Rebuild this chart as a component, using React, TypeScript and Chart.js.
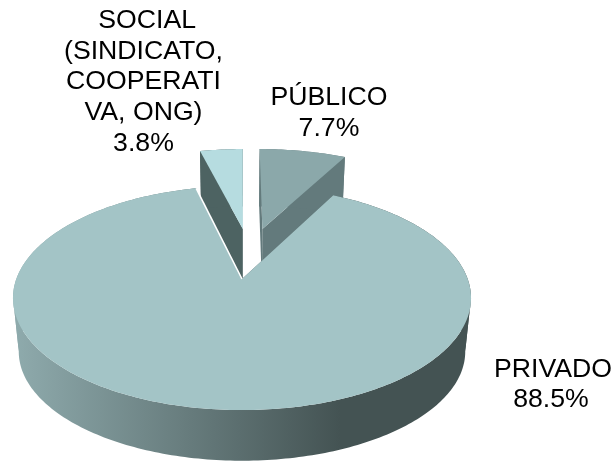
import React, { useEffect, useRef } from "react";
import { Chart, registerables } from "chart.js";

Chart.register(...registerables);

const categories = ["PÚBLICO", "PRIVADO", "SOCIAL (SINDICATO, COOPERATIVA, ONG)"];
const shares = [7.7, 88.5, 3.8];
const labelLines = [
  ["PÚBLICO", "7.7%"],
  ["PRIVADO", "88.5%"],
  ["SOCIAL", "(SINDICATO,", "COOPERATI", "VA, ONG)", "3.8%"],
];

const topColors = ["#8ba8aa", "#a3c4c6", "#b6dce0"];
const wallColors = ["#637a7c", "#445353", "#4d6362"];
const sliceShift = [
  [0.098, -0.4985],
  [0, 0],
  [0.004, -0.4985],
];
const drawOrder = [2, 0, 1];
const labelAnchors = [
  { x: 329, y: 105, step: 30.7 },
  { x: 552, y: 376.5, step: 30.7 },
  { x: 143.5, y: 28, step: 30.7 },
];
const lineNudge = [
  [0, 0],
  [1, -1],
  [3.7, 0, 0, 0, 0],
];

const CX = 242;
const PERSPECTIVE = 0.17;
const top = { cy: 279, rx: 225.7, ry: 108.8 };
const bottom = { cy: 333, rx: 220, ry: 106 };

type Face = { cy: number; rx: number; ry: number };
const project = (u: number, v: number, f: Face) => {
  const s = 1 / (1 - PERSPECTIVE * v);
  return [CX + f.rx * u * s, f.cy + f.ry * v * s];
};

const arcPoints = (a0: number, a1: number, shift: number[], f: Face) => {
  const n = Math.max(8, Math.ceil(((a1 - a0) * 180) / Math.PI));
  const pts: number[][] = [];
  for (let i = 0; i <= n; i++) {
    const a = a0 + ((a1 - a0) * i) / n;
    pts.push(project(shift[0] + Math.cos(a), shift[1] + Math.sin(a), f));
  }
  return pts;
};

const fillPoly = (ctx: CanvasRenderingContext2D, pts: number[][], fill: any) => {
  ctx.beginPath();
  pts.forEach((p, i) => (i ? ctx.lineTo(p[0], p[1]) : ctx.moveTo(p[0], p[1])));
  ctx.closePath();
  ctx.fillStyle = fill;
  ctx.fill();
};

// The outer wall folds over at the left and right extremes of the ellipse, so
// it is filled in pieces that each run one way across the page.
const fillWall = (ctx: CanvasRenderingContext2D, upper: number[][], lower: number[][], fill: any) => {
  let from = 0;
  for (let k = 1; k < upper.length; k++) {
    const ending = k === upper.length - 1;
    const turns =
      !ending && Math.sign(upper[k + 1][0] - upper[k][0]) !== Math.sign(upper[k][0] - upper[k - 1][0]);
    if (ending || turns) {
      fillPoly(
        ctx,
        [...upper.slice(from, k + 1), ...lower.slice(from, k + 1).reverse()],
        fill
      );
      from = k;
    }
  }
};

const pie3dPlugin = {
  id: "pie3d",
  beforeDatasetsDraw(chart: any) {
    const ctx: CanvasRenderingContext2D = chart.ctx;
    const arcs = chart.getDatasetMeta(0).data;
    ctx.save();
    for (const i of drawOrder) {
      const { startAngle, endAngle } = arcs[i];
      const shift = sliceShift[i];
      const topArc = arcPoints(startAngle, endAngle, shift, top);
      const botArc = arcPoints(startAngle, endAngle, shift, bottom);
      const apexT = project(shift[0], shift[1], top);
      const apexB = project(shift[0], shift[1], bottom);
      let wall: any = wallColors[i];
      if (i === 1) {
        const g = ctx.createLinearGradient(13, 0, 340, 0);
        g.addColorStop(0, "#8fabad");
        g.addColorStop(1, wallColors[i]);
        wall = g;
      }
      fillPoly(ctx, [apexT, topArc[0], botArc[0], apexB], wall);
      fillPoly(ctx, [apexT, topArc[topArc.length - 1], botArc[botArc.length - 1], apexB], wall);
      fillWall(ctx, topArc, botArc, wall);
      fillPoly(ctx, [apexT, ...topArc], topColors[i]);
      if (i === 1) {
        const end = topArc[topArc.length - 1];
        ctx.beginPath();
        ctx.moveTo(apexT[0], apexT[1]);
        ctx.lineTo(end[0], end[1]);
        ctx.strokeStyle = "#ffffff";
        ctx.lineWidth = 1.6;
        ctx.stroke();
      }
    }
    ctx.restore();
    return false;
  },
  afterDraw(chart: any) {
    const ctx: CanvasRenderingContext2D = chart.ctx;
    ctx.save();
    ctx.font = '26.67px "Liberation Sans", Arial, sans-serif';
    ctx.fillStyle = "#000000";
    ctx.textAlign = "center";
    ctx.textBaseline = "alphabetic";
    labelLines.forEach((lines, i) => {
      const a = labelAnchors[i];
      lines.forEach((line, k) => ctx.fillText(line, a.x + lineNudge[i][k], a.y + k * a.step));
    });
    ctx.restore();
  },
};

export default function App() {
  const ref = useRef<HTMLCanvasElement>(null);
  useEffect(() => {
    document.body.style.margin = "0";
    const chart = new Chart(ref.current!, {
      type: "pie",
      data: {
        labels: categories,
        datasets: [{ data: shares, backgroundColor: topColors, borderWidth: 0 }],
      },
      options: {
        animation: false,
        responsive: false,
        plugins: { legend: { display: false }, tooltip: { enabled: false } },
      },
      plugins: [pie3dPlugin],
    } as any);
    return () => chart.destroy();
  }, []);
  return <canvas ref={ref} width={615} height={461} style={{ display: "block" }} />;
}
